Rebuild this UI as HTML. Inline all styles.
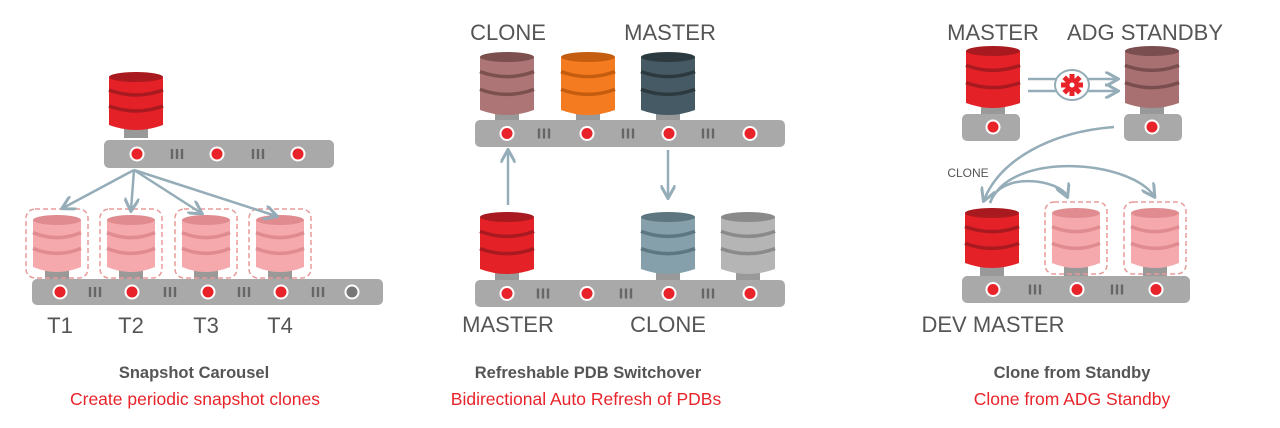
<!DOCTYPE html>
<html><head><meta charset="utf-8"><style>
html,body{margin:0;padding:0;background:#fff;width:1280px;height:428px;overflow:hidden}
svg{display:block}
text{font-family:"Liberation Sans",sans-serif}
</style></head><body>
<svg id="s" width="1280" height="428" viewBox="0 0 1280 428" xmlns="http://www.w3.org/2000/svg">
<defs>
<marker id="ah" viewBox="0 0 10 10" refX="8" refY="5" markerWidth="6" markerHeight="6" orient="auto"><path d="M0,0 L9,5 L0,10" fill="none" stroke="#95adb8" stroke-width="2"/></marker>
</defs>
<g id="g"></g>
<g fill="#555" font-size="22" text-anchor="middle">
<text x="60" y="333">T1</text><text x="131" y="333">T2</text><text x="206" y="333">T3</text><text x="280" y="333">T4</text>
<text x="508" y="40">CLONE</text><text x="670" y="40">MASTER</text>
<text x="508" y="332">MASTER</text><text x="668" y="332">CLONE</text>
<text x="993" y="40">MASTER</text><text x="1145" y="40">ADG STANDBY</text>
<text x="993" y="332">DEV MASTER</text>
<text x="968" y="177" font-size="12">CLONE</text>
</g>
<g font-size="16.5" font-weight="bold" fill="#555" text-anchor="middle">
<text x="194" y="378">Snapshot Carousel</text>
<text x="588" y="378">Refreshable PDB Switchover</text>
<text x="1072" y="378">Clone from Standby</text>
</g>
<g font-size="17.5" fill="#e8232a" text-anchor="middle">
<text x="195" y="405">Create periodic snapshot clones</text>
<text x="586" y="405">Bidirectional Auto Refresh of PDBs</text>
<text x="1072" y="405">Clone from ADG Standby</text>
</g>
</svg>
<script>
var g=document.getElementById('g'),h='';
function bar(x,y,w,hh,dots,dashes,grey){h+='<rect x="'+x+'" y="'+y+'" width="'+w+'" height="'+hh+'" rx="5" fill="#a9a9a9"/>';
dots.forEach(function(d,i){var c=(grey&&i==dots.length-1)?'#777':'#e8232a';h+='<circle cx="'+d+'" cy="'+(y+hh/2)+'" r="7.5" fill="#fff"/><circle cx="'+d+'" cy="'+(y+hh/2)+'" r="5.5" fill="'+c+'"/>';});
dashes.forEach(function(d){for(var k=-1;k<=1;k++)h+='<rect x="'+(d+k*5-1.2)+'" y="'+(y+hh/2-5)+'" width="2.4" height="10" fill="#666"/>';});}
function db(cx,top,bot,w,f,dk,dash){var l=cx-w/2,r=cx+w/2,H=bot-top;
h+='<rect x="'+(cx-12)+'" y="'+(bot-2)+'" width="24" height="10" fill="#999"/>';
if(dash)h+='<rect x="'+(l-7)+'" y="'+(top-6)+'" width="'+(w+14)+'" height="'+(H+12)+'" rx="9" fill="none" stroke="#e89a9a" stroke-width="1.5" stroke-dasharray="5,3"/>';
h+='<path d="M'+l+','+(top+5)+' L'+l+','+(bot-5)+' Q'+cx+','+(bot+5)+' '+r+','+(bot-5)+' L'+r+','+(top+5)+' Z" fill="'+f+'"/>';
h+='<ellipse cx="'+cx+'" cy="'+(top+5)+'" rx="'+(w/2)+'" ry="5" fill="'+dk+'"/>';
[1/3,2/3].forEach(function(t){var y=top+5+(H-10)*t;h+='<path d="M'+l+','+(y-3)+' Q'+cx+','+(y+7)+' '+r+','+(y-3)+'" fill="none" stroke="'+dk+'" stroke-width="3.5"/>';});}
function ar(d){h+='<path d="'+d+'" fill="none" stroke="#95adb8" stroke-width="2.5" marker-end="url(#ah)"/>';}
var R='#e42127',RD='#a81a1f',P='#f6a9ac',PD='#e08b8f';
db(136,72,130,54,R,RD);
bar(104,140,230,28,[137,217,298],[177,258]);
[57,131,206,280].forEach(function(c){db(c,215,272,48,P,PD,1);});
bar(32,279,351,26,[60,132,208,281,352],[95,170,244,318],1);
ar('M134,170 L63,208');ar('M134,170 L131,210');ar('M134,170 L201,213');ar('M134,170 L276,216');
db(507,52,115,54,'#ad7575','#7d5050');db(588,52,115,54,'#f47b20','#c45d10');db(668,52,115,54,'#455a64','#2c3a40');
bar(475,120,310,27,[507,587,669,750],[544,628,708]);
ar('M508,205 L508,151');ar('M668,150 L668,197');
db(507,212,274,54,R,RD);db(668,212,274,54,'#86a0ab','#5d7680');db(748,212,274,54,'#b5b5b5','#8a8a8a');
bar(475,280,310,27,[507,587,669,750],[543,626,708]);
db(993,46,108,54,R,RD);db(1152,46,108,54,'#a87070','#7a4e4e');
h+='<rect x="962" y="114" width="58" height="27" rx="5" fill="#a9a9a9"/><circle cx="993" cy="127" r="7.5" fill="#fff"/><circle cx="993" cy="127" r="5.5" fill="#e8232a"/>';
h+='<rect x="1124" y="114" width="58" height="27" rx="5" fill="#a9a9a9"/><circle cx="1152" cy="127" r="7.5" fill="#fff"/><circle cx="1152" cy="127" r="5.5" fill="#e8232a"/>';
ar('M1028,79 L1117,79');ar('M1028,91 L1117,91');
h+='<ellipse cx="1072" cy="85" rx="17" ry="15" fill="#fff" stroke="#95adb8" stroke-width="2"/>';
for(var i=0;i<8;i++){h+='<rect x="1069.5" y="74" width="5" height="6" fill="#e8232a" transform="rotate('+(i*45)+' 1072 85)"/>';}
h+='<circle cx="1072" cy="85" r="7" fill="#e8232a"/><circle cx="1072" cy="85" r="2.5" fill="#fff"/>';
ar('M1114,127 C1050,132 1000,160 984,200');
ar('M990,203 C1000,170 1060,180 1067,196');ar('M990,203 C1010,150 1130,160 1154,196');
db(992,208,268,54,R,RD);db(1076,208,268,48,P,PD,1);db(1155,208,268,48,P,PD,1);
bar(962,276,228,27,[993,1077,1156],[1035,1117]);
g.innerHTML=h;
</script>
</body></html>
